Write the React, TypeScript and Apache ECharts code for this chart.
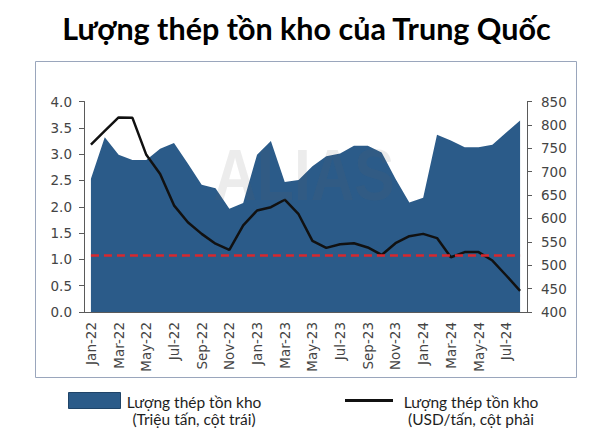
import React, { useEffect, useRef } from "react";
import * as echarts from "echarts";

const categories = [
  "Jan-22", "Feb-22", "Mar-22", "Apr-22", "May-22", "Jun-22", "Jul-22", "Aug-22",
  "Sep-22", "Oct-22", "Nov-22", "Dec-22", "Jan-23", "Feb-23", "Mar-23", "Apr-23",
  "May-23", "Jun-23", "Jul-23", "Aug-23", "Sep-23", "Oct-23", "Nov-23", "Dec-23",
  "Jan-24", "Feb-24", "Mar-24", "Apr-24", "May-24", "Jun-24", "Jul-24", "Aug-24",
];

// Million tonnes (left axis)
const inventory = [
  2.53, 3.32, 2.99, 2.89, 2.89, 3.10, 3.21, 2.82, 2.42, 2.35, 1.96, 2.07,
  2.99, 3.25, 2.47, 2.51, 2.77, 2.96, 3.01, 3.16, 3.16, 3.03, 2.53, 2.08,
  2.17, 3.37, 3.26, 3.13, 3.13, 3.18, 3.41, 3.64,
];

// USD/tonne (right axis)
const price = [
  758, 787, 816, 815, 736, 695, 628, 592, 567, 546, 533, 585,
  617, 624, 640, 609, 552, 537, 545, 547, 538, 522, 547, 562,
  567, 558, 517, 528, 528, 510, 478, 445,
];

const referenceLevel = 522;

const titleText = "Lượng thép tồn kho của Trung Quốc";
const legendArea = ["Lượng thép tồn kho", "(Triệu tấn, cột trái)"];
const legendLine = ["Lượng thép tồn kho", "(USD/tấn, cột phải"];

const BLUE = "#2b5b89";
const AXIS = "#5a5a5a";
const LABEL = "#444444";

export default function App() {
  const ref = useRef<HTMLDivElement>(null);
  useEffect(() => {
    if (!ref.current) return;
    const chart = echarts.init(ref.current, undefined, { renderer: "svg" });
    const labelFont = { fontFamily: "DejaVu Sans", fontSize: 13.5, color: LABEL };
    const legendFont = { fontFamily: "Lato", fontSize: 15.5, fill: "#1e1e1e" };
    chart.setOption({
      animation: false,
      backgroundColor: "#ffffff",
      title: {
        text: titleText,
        left: "center",
        top: 7,
        textStyle: { fontFamily: "Lato", fontWeight: "bold", fontSize: 30.5, color: "#000000" },
      },
      grid: { left: 84, right: 86, top: 101.5, bottom: 134 },
      xAxis: {
        type: "category",
        data: categories,
        boundaryGap: true,
        axisLine: { show: true, lineStyle: { color: AXIS, width: 1 } },
        axisTick: { show: true, interval: 1, inside: true, length: 5, lineStyle: { color: AXIS } },
        axisLabel: { interval: 1, rotate: 90, margin: 10, ...labelFont },
        splitLine: { show: false },
      },
      yAxis: [
        {
          type: "value",
          min: 0,
          max: 4,
          interval: 0.5,
          axisLine: { show: true, lineStyle: { color: AXIS, width: 1 } },
          axisTick: { show: true, length: 5, lineStyle: { color: AXIS } },
          axisLabel: { margin: 12, formatter: (v: number) => v.toFixed(1), ...labelFont },
          splitLine: { show: false },
        },
        {
          type: "value",
          min: 400,
          max: 850,
          interval: 50,
          position: "right",
          axisLine: { show: true, lineStyle: { color: AXIS, width: 1 } },
          axisTick: { show: true, length: 5, lineStyle: { color: AXIS } },
          axisLabel: { margin: 14, ...labelFont },
          splitLine: { show: false },
        },
      ],
      series: [
        {
          type: "line",
          name: "inventory",
          yAxisIndex: 0,
          data: inventory,
          symbol: "none",
          lineStyle: { width: 0 },
          areaStyle: { color: BLUE, opacity: 1 },
          z: 2,
        },
        {
          type: "line",
          name: "price",
          yAxisIndex: 1,
          data: price,
          symbol: "none",
          lineStyle: { color: "#111111", width: 2.5 },
          z: 4,
          markLine: {
            silent: true,
            symbol: "none",
            label: { show: false },
            lineStyle: { color: "#d8282e", width: 2.5, type: [8, 5] },
            data: [
              [
                { coord: [categories[0], referenceLevel] },
                { coord: [categories[categories.length - 1], referenceLevel] },
              ],
            ],
          },
        },
      ],
      graphic: [
        {
          type: "rect",
          shape: { x: 35.5, y: 61.5, width: 541, height: 316 },
          style: { fill: "none", stroke: "#9aa6bc", lineWidth: 1 },
          z: 0,
        },
        {
          type: "text",
          x: 304,
          y: 175,
          scaleX: 0.84,
          z: 10,
          style: {
            text: "ALIAS",
            fontFamily: "Liberation Sans",
            fontWeight: "bold",
            fontSize: 72,
            fill: "rgba(95,95,95,0.12)",
            align: "center",
            verticalAlign: "middle",
          },
        },
        {
          type: "rect",
          shape: { x: 68.5, y: 392.5, width: 52, height: 16 },
          style: { fill: BLUE, stroke: "#1f4468", lineWidth: 1 },
        },
        {
          type: "text",
          x: 194,
          y: 402,
          style: { text: legendArea[0], align: "center", verticalAlign: "middle", ...legendFont },
        },
        {
          type: "text",
          x: 194,
          y: 418.5,
          style: { text: legendArea[1], align: "center", verticalAlign: "middle", ...legendFont },
        },
        {
          type: "line",
          shape: { x1: 345, y1: 400.5, x2: 393, y2: 400.5 },
          style: { stroke: "#111111", lineWidth: 3 },
        },
        {
          type: "text",
          x: 471,
          y: 402,
          style: { text: legendLine[0], align: "center", verticalAlign: "middle", ...legendFont },
        },
        {
          type: "text",
          x: 471,
          y: 418.5,
          style: { text: legendLine[1], align: "center", verticalAlign: "middle", ...legendFont },
        },
      ],
    });
    return () => chart.dispose();
  }, []);
  return (
    <div
      ref={ref}
      style={{ position: "absolute", left: 0, top: 0, width: 613, height: 446 }}
    />
  );
}
